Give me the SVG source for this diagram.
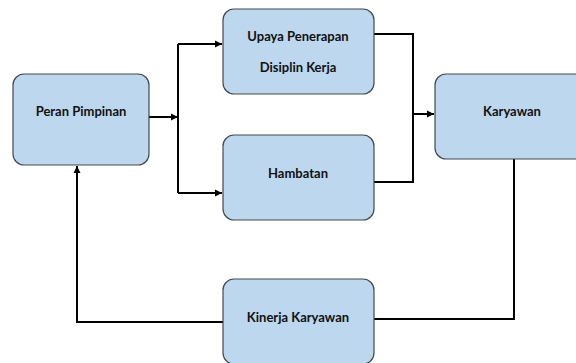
<svg xmlns="http://www.w3.org/2000/svg" width="576" height="363" viewBox="0 0 576 363">
<style>
.box{fill:#bdd7ee;stroke:#44484c;stroke-width:1.2}
.t{font-family:Lato,"Liberation Sans",sans-serif;font-weight:bold;font-size:13px;fill:#111;text-anchor:middle}
.c{fill:none;stroke:#000;stroke-width:2}
</style>
<defs>
<marker id="ah" markerWidth="8" markerHeight="8" refX="7" refY="4" orient="auto" markerUnits="userSpaceOnUse">
<path d="M0,0.5 L7,4 L0,7.5 Z" fill="#000"/>
</marker>
</defs>
<rect width="576" height="363" fill="#fff"/>
<g id="connectors">
<path class="c" d="M149,117 H178" stroke-width="3.5" marker-end="url(#ah)"/>
<path class="c" d="M178,44 V193"/>
<path class="c" d="M178,44 H222" marker-end="url(#ah)"/>
<path class="c" d="M178,193 H222" marker-end="url(#ah)"/>
<path class="c" d="M374,34 H413 V182 H374"/>
<path class="c" d="M413,114 H434" marker-end="url(#ah)"/>
<path class="c" d="M514,159 V319 H373"/>
<path class="c" d="M223,322 H77 V166" marker-end="url(#ah)"/>
</g>
<g id="peran">
<rect class="box" x="13" y="74" width="136" height="91" rx="11"/>
<text class="t" x="81" y="116">Peran Pimpinan</text>
</g>
<g id="upaya">
<rect class="box" x="223" y="9" width="151" height="85" rx="11"/>
<text class="t" x="298" y="41">Upaya Penerapan</text>
<text class="t" x="298" y="72">Disiplin Kerja</text>
</g>
<g id="hambatan">
<rect class="box" x="223" y="135" width="151" height="85" rx="11"/>
<text class="t" x="298" y="178">Hambatan</text>
</g>
<g id="karyawan">
<rect class="box" x="435" y="74" width="160" height="85" rx="11"/>
<text class="t" x="512" y="116">Karyawan</text>
</g>
<g id="kinerja">
<rect class="box" x="223" y="279" width="151" height="85" rx="11"/>
<text class="t" x="298" y="322">Kinerja Karyawan</text>
</g>
</svg>
